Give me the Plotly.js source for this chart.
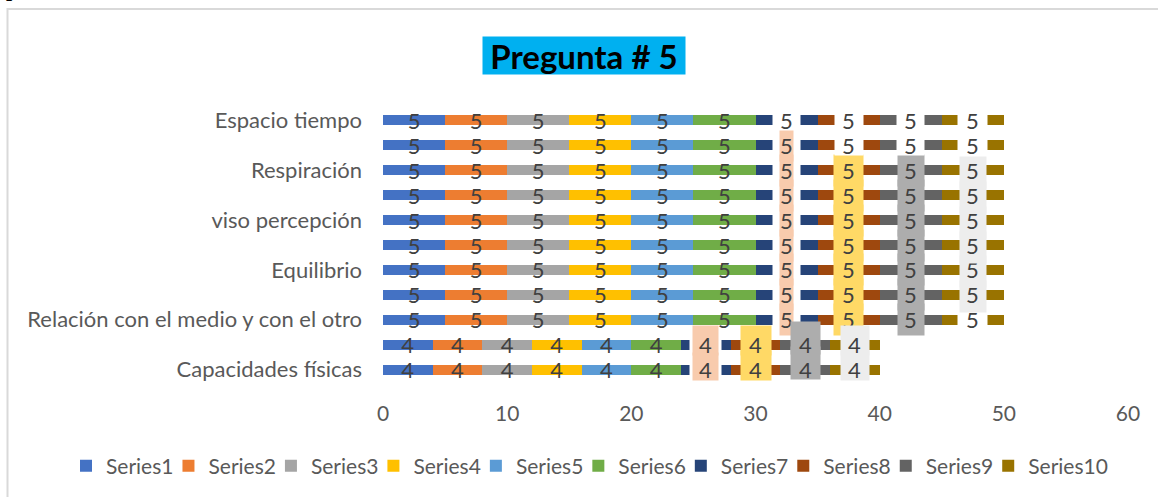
<!DOCTYPE html>
<html>
<head>
<meta charset="utf-8">
<script src="https://cdn.plot.ly/plotly-3.0.1.min.js"></script>
<style>
html,body{margin:0;padding:0;background:#fff;}
#chart{width:1158px;height:497px;}
</style>
</head>
<body>
<div id="chart"></div>
<script>
// ---- data (rows from bottom to top) ----
const categories = ["Capacidades físicas", "", "Relación con el medio y con el otro", "", "Equilibrio", "", "viso percepción", "", "Respiración", "", "Espacio tiempo"];
const seriesNames = ["Series1","Series2","Series3","Series4","Series5","Series6","Series7","Series8","Series9","Series10"];
const series1  = [4,4,5,5,5,5,5,5,5,5,5];
const series2  = [4,4,5,5,5,5,5,5,5,5,5];
const series3  = [4,4,5,5,5,5,5,5,5,5,5];
const series4  = [4,4,5,5,5,5,5,5,5,5,5];
const series5  = [4,4,5,5,5,5,5,5,5,5,5];
const series6  = [4,4,5,5,5,5,5,5,5,5,5];
const series7  = [4,4,5,5,5,5,5,5,5,5,5];
const series8  = [4,4,5,5,5,5,5,5,5,5,5];
const series9  = [4,4,5,5,5,5,5,5,5,5,5];
const series10 = [4,4,5,5,5,5,5,5,5,5,5];
const xTickVals = [0,10,20,30,40,50,60];
const titleText = "Pregunta # 5";

// ---- styles ----
const seriesValues = [series1,series2,series3,series4,series5,series6,series7,series8,series9,series10];
const colors = ["#4472C4","#ED7D31","#A5A5A5","#FFC000","#5B9BD5","#70AD47","#264478","#9E480E","#636363","#997300"];
const FONT = "Lato, 'Open Sans', sans-serif";
const LABEL_COLOR = "#404040";
const AXIS_COLOR = "#595959";
const LABEL_SIZE = 22;

// plot geometry (px)
const W = 1158, H = 497;
const M = {l:383, r:30, t:108, b:115};
const PW = W - M.l - M.r, PH = H - M.t - M.b;
const xp = px => (px - M.l) / PW;
const yp = py => (H - M.b - py) / PH;

const rows = categories.map((c,i) => i);
const tickRows = rows.filter(i => categories[i] !== "");

// label-box look for series 7..10 (Excel label fills)
function labelBoxes(si, row) {
  const WHITE = "#FFFFFF";
  const out = [];
  const bottom = row <= 1;
  if (si === 6) {
    if (row >= 10) out.push({c:WHITE, w:27, h:20, s:0});
    else if (!bottom) { out.push({c:WHITE, w:27, h:14, s:0}); out.push({c:"#F8CBAD", w:13, h:31, s:0}); }
    else { out.push({c:WHITE, w:31, h:14, s:0}); out.push({c:"#F8CBAD", w:25, h:29, s:4}); }
  } else if (si === 7) {
    if (row >= 9) out.push({c:WHITE, w:28, h:20, s:0});
    else if (!bottom) out.push({c:"#FFD966", w:29, h:31, s:0});
    else out.push({c:"#FFD966", w:30, h:29, s:4});
  } else if (si === 8) {
    if (row >= 9) out.push({c:WHITE, w:27, h:20, s:0});
    else if (!bottom) out.push({c:"#ADADAD", w:26, h:31, s:0});
    else out.push({c:"#ADADAD", w:29, h:32, s:7});
  } else if (si === 9) {
    if (row >= 9 || row === 2) out.push({c:WHITE, w:29, h:20, s:0});
    else if (!bottom) out.push({c:"#EDEDED", w:26, h:31, s:-2});
    else out.push({c:"#EDEDED", w:28, h:29, s:4});
  }
  return out;
}

const traces = seriesValues.map((vals, si) => ({
  type: "bar",
  orientation: "h",
  name: seriesNames[si],
  x: vals,
  y: rows,
  marker: {color: colors[si], line: {width: 0}},
  text: si < 6 ? vals.map(v => String(v)) : undefined,
  textposition: si < 6 ? "inside" : "none",
  insidetextanchor: "middle",
  textangle: 0,
  constraintext: "none",
  textfont: {family: FONT, size: LABEL_SIZE, color: LABEL_COLOR},
  hoverinfo: "skip"
}));

const annotations = [];
// title with cyan box
annotations.push({
  xref: "paper", yref: "paper", x: xp(584), y: yp(55.5),
  xanchor: "center", yanchor: "middle", showarrow: false,
  text: "<b>" + titleText + "</b>",
  font: {family: FONT, size: 33, color: "#000000"},
  bgcolor: "#00B0F0", width: 202, height: 37, borderpad: 0
});
// cropped glyph from the page above the chart
annotations.push({
  xref: "paper", yref: "paper", x: xp(5), y: yp(2),
  xanchor: "left", yanchor: "bottom", showarrow: false,
  text: "<b>p</b>", font: {family: "'Liberation Serif', serif", size: 22, color: "#000000"},
  borderpad: 0
});

// data labels for series 7..10
for (let si = 6; si < 10; si++) {
  rows.forEach(r => {
    let start = 0;
    for (let k = 0; k < si; k++) start += seriesValues[k][r];
    const v = seriesValues[si][r];
    const cx = start + v / 2;
    labelBoxes(si, r).forEach(b => {
      annotations.push({
        xref: "x", yref: "y", x: cx, y: r, xanchor: "center", yanchor: "middle",
        showarrow: false, text: "\u00A0", yshift: b.s,
        font: {family: FONT, size: 10, color: "rgba(0,0,0,0)"},
        bgcolor: b.c, width: b.w, height: b.h, borderpad: 0
      });
    });
    annotations.push({
      xref: "x", yref: "y", x: cx, y: r, xanchor: "center", yanchor: "middle",
      showarrow: false, text: String(v),
      font: {family: FONT, size: LABEL_SIZE, color: LABEL_COLOR}
    });
  });
}

const layout = {
  width: W, height: H,
  margin: {l: M.l, r: M.r, t: M.t, b: M.b, autoexpand: false},
  paper_bgcolor: "#FFFFFF", plot_bgcolor: "#FFFFFF",
  barmode: "stack", bargap: 0.6,
  showlegend: true,
  font: {family: FONT, color: AXIS_COLOR},
  xaxis: {
    range: [0, 60], tickvals: xTickVals, ticktext: xTickVals.map(String),
    showgrid: false, zeroline: false, showline: false, ticks: "",
    tickfont: {family: FONT, size: 21, color: AXIS_COLOR},
    ticklabelstandoff: 17, fixedrange: true
  },
  yaxis: {
    range: [-0.5, 10.5], tickvals: tickRows, ticktext: tickRows.map(i => categories[i]),
    showgrid: false, zeroline: false, showline: false, ticks: "",
    tickfont: {family: FONT, size: 22, color: AXIS_COLOR},
    ticklabelstandoff: 20, fixedrange: true
  },
  legend: {
    orientation: "h", x: xp(76), xanchor: "left", y: yp(466), yanchor: "middle",
    traceorder: "normal", font: {family: FONT, size: 21, color: AXIS_COLOR},
    bgcolor: "rgba(0,0,0,0)", indentation: -10
  },
  shapes: [{
    type: "rect", xref: "paper", yref: "paper",
    x0: xp(7.5), x1: xp(1170), y0: yp(9), y1: yp(510),
    line: {color: "#D9D9D9", width: 2}, fillcolor: "rgba(0,0,0,0)", layer: "below"
  }],
  annotations: annotations
};

Plotly.newPlot("chart", traces, layout, {staticPlot: true, displayModeBar: false});
</script>
</body>
</html>
